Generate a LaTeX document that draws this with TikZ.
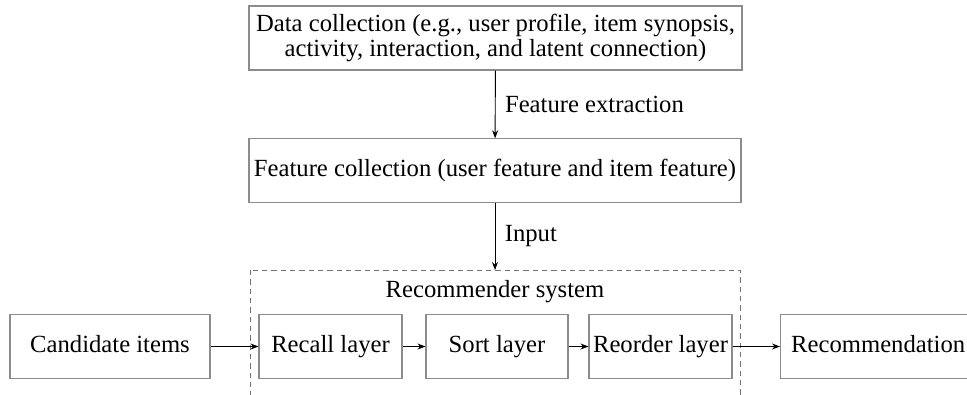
\documentclass[tikz,border=0pt]{standalone}
\usepackage{fontspec}
\setmainfont{Liberation Serif}
\usetikzlibrary{arrows.meta}
\begin{document}
\begin{tikzpicture}[x=0.75pt,y=-0.75pt,
  box/.style={draw=black!45,line width=0.8pt,inner sep=0pt,minimum height=47.5pt,font=\fontsize{18.5}{19}\selectfont,align=center},
  one/.style={text height=12.5pt,text depth=4pt},
  arr/.style={-{Stealth[length=6pt,width=4.5pt]},line width=0.7pt},
  lbl/.style={font=\fontsize{18.5}{19}\selectfont,inner sep=0pt,anchor=west}]
\useasboundingbox (0,0) rectangle (967,394);
\clip (0,0) rectangle (967,394);
\node[box,minimum width=369.75pt,minimum height=48pt] (data) at (495.5,38) {Data collection (e.g., user profile, item synopsis,\\activity, interaction, and latent connection)};
\node[box,one,minimum width=369pt] (feat) at (495,170.5) {Feature collection (user feature and item feature)};
\draw[dashed,draw=black!55,line width=0.7pt,dash pattern=on 4pt off 3pt] (250,270) rectangle (740,400);
\coordinate (systop) at (495,270);
\node[lbl,anchor=center] (systitle) at (495,292) {Recommender system};
\node[box,one,minimum width=150pt] (cand) at (110,346.5) {Candidate items};
\node[box,one,minimum width=107.25pt] (recall) at (330.5,346.5) {Recall layer};
\node[box,one,minimum width=106.5pt] (sort) at (497,346.5) {Sort layer};
\node[box,one,minimum width=107.25pt] (reorder) at (660.5,346.5) {Reorder layer};
\node[box,one,minimum width=150pt,anchor=west,text width=150pt,align=left] (rec) at (780,346.5) {\hspace*{8pt}Recommendation};
\draw[arr] (data) -- node[lbl,right=7pt] (fe) {Feature extraction} (feat);
\draw[arr] (feat) -- node[lbl,right=7pt] (inp) {Input} (systop);
\draw[arr] (cand) -- (recall);
\draw[arr] (recall) -- (sort);
\draw[arr] (sort) -- (reorder);
\draw[arr] (reorder) -- (rec);
\end{tikzpicture}
\end{document}
